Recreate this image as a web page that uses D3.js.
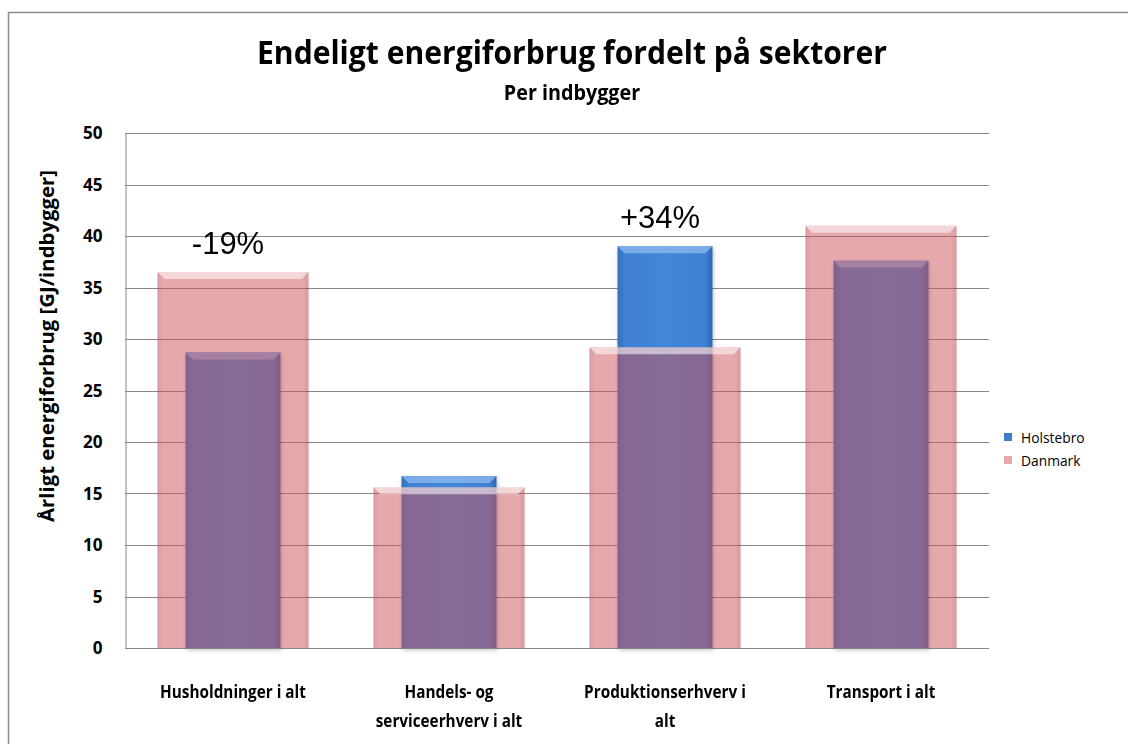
<!DOCTYPE html>
<html>
<head>
<meta charset="utf-8">
<script src="https://cdn.jsdelivr.net/npm/d3@7"></script>
<style>
  html, body { margin: 0; padding: 0; background: #fff; }
  svg { display: block; }
</style>
</head>
<body>
<svg id="chart" width="1128" height="744"></svg>
<script>
// chart data
const categories = [
  ['Husholdninger i alt'],
  ['Handels- og', 'serviceerhverv i alt'],
  ['Produktionserhverv i', 'alt'],
  ['Transport i alt']
];
const holstebro = [28.7, 16.7, 39.0, 37.6];
const danmark = [36.5, 15.6, 29.2, 41.0];
const seriesNames = ['Holstebro', 'Danmark'];
const yTicks = [0, 5, 10, 15, 20, 25, 30, 35, 40, 45, 50];
const callouts = [{ cat: 0, value: 36.5, text: '-19%' }, { cat: 2, value: 39.0, text: '+34%' }];

const FONT = "'Open Sans', 'Noto Sans', sans-serif";

const svg = d3.select('#chart');
const W = 1128, H = 744;
const margin = { left: 125, right: 139, top: 133, bottom: 96 };

// outer chart frame (cropped at right/bottom in the original)
svg.append('rect')
  .attr('x', 8.5).attr('y', 12.5)
  .attr('width', 1200).attr('height', 800)
  .attr('fill', '#fff')
  .attr('stroke', '#8c8c8c')
  .attr('stroke-width', 1.5);

const x = d3.scaleBand()
  .domain(d3.range(categories.length))
  .range([margin.left, W - margin.right])
  .padding(0);

const y = d3.scaleLinear()
  .domain([0, 50])
  .range([H - margin.bottom, margin.top]);

// Calibri is narrower than Open Sans: squeeze glyphs a bit
function squeeze(k) {
  return sel => sel.each(function () {
    const len = this.getComputedTextLength();
    d3.select(this).attr('textLength', len * k).attr('lengthAdjust', 'spacingAndGlyphs');
  });
}

// gridlines
svg.append('g')
  .selectAll('line')
  .data(yTicks.filter(d => d > 0))
  .join('line')
  .attr('x1', margin.left).attr('x2', W - margin.right)
  .attr('y1', d => Math.round(y(d)) + 0.5).attr('y2', d => Math.round(y(d)) + 0.5)
  .attr('stroke', '#868686')
  .attr('stroke-width', 1);

// y axis
const yAxis = svg.append('g')
  .attr('transform', `translate(${margin.left + 0.5},0)`)
  .call(d3.axisLeft(y).tickValues(yTicks).tickSize(0).tickPadding(23));
yAxis.select('.domain').attr('stroke', '#868686');
yAxis.selectAll('text')
  .attr('font-family', FONT)
  .attr('font-weight', 'bold')
  .attr('font-size', 18)
  .attr('fill', '#000')
  .call(squeeze(0.95));

// defs: gradients
const defs = svg.append('defs');
function hGrad(id, stops) {
  const g = defs.append('linearGradient').attr('id', id).attr('x1', 0).attr('x2', 1).attr('y1', 0).attr('y2', 0);
  stops.forEach(s => g.append('stop').attr('offset', s[0]).attr('stop-color', s[1]).attr('stop-opacity', s[2] ?? 1));
}
hGrad('blueG', [[0, '#3470be'], [0.08, '#3f80d2'], [0.5, '#4387d8'], [0.92, '#3f80d2'], [1, '#2f66b0']]);
hGrad('pinkG', [[0, '#c04a50', 0.55], [0.04, '#cd5259', 0.5], [0.96, '#cd5259', 0.5], [1, '#b8464c', 0.55]]);

const shadow = defs.append('filter').attr('id', 'shadow').attr('x', -0.1).attr('y', -0.1).attr('width', 1.2).attr('height', 1.2);
shadow.append('feGaussianBlur').attr('in', 'SourceAlpha').attr('stdDeviation', 2);
shadow.append('feOffset').attr('dx', 1).attr('dy', 2).attr('result', 'b');
shadow.append('feComponentTransfer').append('feFuncA').attr('type', 'linear').attr('slope', 0.25);
const mg = shadow.append('feMerge');
mg.append('feMergeNode');
mg.append('feMergeNode').attr('in', 'SourceGraphic');

function drawBars(values, widthFrac, fill, bevelColor, bevelOpacity, cls) {
  const g = svg.append('g').attr('class', cls);
  const bw = x.bandwidth() * widthFrac;
  const bars = g.selectAll('g').data(values).join('g');
  bars.append('rect')
    .attr('x', (d, i) => x(i) + (x.bandwidth() - bw) / 2)
    .attr('y', d => y(d))
    .attr('width', bw)
    .attr('height', d => y(0) - y(d))
    .attr('fill', fill);
  // top bevel
  const bev = 7;
  bars.append('path')
    .attr('d', (d, i) => {
      const x0 = x(i) + (x.bandwidth() - bw) / 2, x1 = x0 + bw, t = y(d);
      return `M${x0},${t}L${x1},${t}L${x1 - bev},${t + bev}L${x0 + bev},${t + bev}Z`;
    })
    .attr('fill', bevelColor)
    .attr('opacity', bevelOpacity);
  return g;
}

// Holstebro (narrow, blue) beneath, Danmark (wide, translucent pink) on top
drawBars(holstebro, 0.44, 'url(#blueG)', '#8ab8ee', 0.8, 'holstebro').attr('filter', 'url(#shadow)');
drawBars(danmark, 0.70, 'url(#pinkG)', '#ffffff', 0.55, 'danmark');

// x axis line
svg.append('line')
  .attr('x1', margin.left).attr('x2', W - margin.right)
  .attr('y1', Math.round(y(0)) + 0.5).attr('y2', Math.round(y(0)) + 0.5)
  .attr('stroke', '#868686');

// category labels
const xl = svg.append('g');
categories.forEach((lines, i) => {
  lines.forEach((line, j) => {
    xl.append('text')
      .attr('x', x(i) + x.bandwidth() / 2)
      .attr('y', 698 + j * 29)
      .attr('text-anchor', 'middle')
      .attr('font-family', FONT)
      .attr('font-weight', 'bold')
      .attr('font-size', 18)
      .text(line)
      .call(squeeze(0.85));
  });
});

// percentage callouts
svg.append('g')
  .selectAll('text')
  .data(callouts)
  .join('text')
  .attr('x', d => x(d.cat) + x.bandwidth() / 2 - 5)
  .attr('y', d => y(d.value) - 18)
  .attr('text-anchor', 'middle')
  .attr('font-family', "'Liberation Sans', Arial, sans-serif")
  .attr('font-size', 31)
  .attr('fill', '#000')
  .text(d => d.text);

// title
svg.append('text')
  .attr('x', 572).attr('y', 64)
  .attr('text-anchor', 'middle')
  .attr('font-family', FONT)
  .attr('font-weight', 'bold')
  .attr('font-size', 32)
  .text('Endeligt energiforbrug fordelt på sektorer')
  .call(squeeze(0.94));
svg.append('text')
  .attr('x', 572).attr('y', 100)
  .attr('text-anchor', 'middle')
  .attr('font-family', FONT)
  .attr('font-weight', 'bold')
  .attr('font-size', 21)
  .text('Per indbygger')
  .call(squeeze(0.94));

// y title
svg.append('text')
  .attr('transform', 'translate(54,346) rotate(-90)')
  .attr('text-anchor', 'middle')
  .attr('font-family', FONT)
  .attr('font-weight', 'bold')
  .attr('font-size', 19)
  .text('Årligt energiforbrug [GJ/indbygger]')
  .call(squeeze(1.07));

// legend
const legendColors = ['#3d7cc9', '#e6a9ab'];
const lg = svg.append('g').attr('transform', 'translate(1004,433)');
seriesNames.forEach((name, i) => {
  const row = lg.append('g').attr('transform', `translate(0,${i * 23})`);
  row.append('rect').attr('width', 8).attr('height', 8).attr('fill', legendColors[i]);
  row.append('text')
    .attr('x', 17).attr('y', 10)
    .attr('font-family', FONT)
    .attr('font-size', 15)
    .text(name)
    .call(squeeze(0.92));
});
</script>
</body>
</html>
